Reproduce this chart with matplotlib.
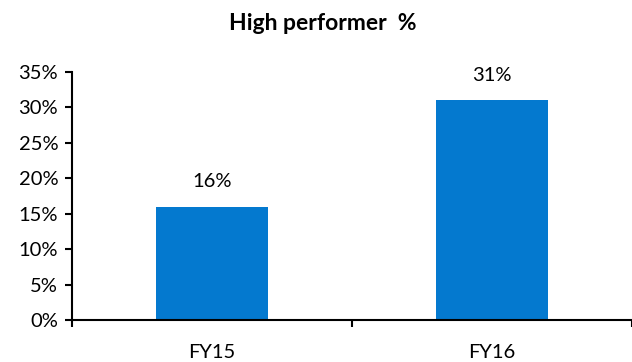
import matplotlib
matplotlib.use("Agg")
import matplotlib.pyplot as plt
import numpy as np

# data
years = ["FY15", "FY16"]
values = [16, 31]
yticks = [0, 5, 10, 15, 20, 25, 30, 35]

plt.rcParams['font.family'] = ['Lato', 'DejaVu Sans']

fig = plt.figure(figsize=(6.32, 3.62), dpi=100)
ax = fig.add_axes([0.114, 0.116, 0.886, 0.685])

x = np.arange(len(years))
ax.bar(x, values, width=0.4, color='#0479CF')

for xi, v in zip(x, values):
    ax.text(xi, v + 2.3, f"{v}%", ha='center', va='bottom', fontsize=14.5)

ax.set_xlim(-0.5, 1.5)
ax.set_ylim(0, 35)
ax.set_yticks(yticks)
ax.set_yticklabels([f"{t}%" for t in yticks], fontsize=14.5)
ax.set_xticks(x)
ax.set_xticklabels(years, fontsize=14.5)
ax.tick_params(axis='x', length=0, pad=17)
ax.set_xticks([-0.5, 0.5, 1.5], minor=True)
ax.tick_params(axis='x', which='minor', length=5, width=1.5, direction='out')
ax.tick_params(axis='y', length=5, width=1.5, direction='out', pad=5)

for s in ['top', 'right']:
    ax.spines[s].set_visible(False)
for s in ['left', 'bottom']:
    ax.spines[s].set_linewidth(1.5)

fig.text(0.51, 0.935, "High performer  %", ha='center', va='center',
         fontsize=16.5, fontweight='bold')

fig.savefig("out.png", dpi=100)
